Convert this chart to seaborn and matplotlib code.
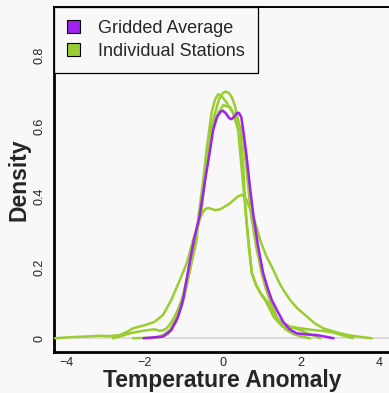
import matplotlib
matplotlib.use("Agg")
import matplotlib.pyplot as plt
from matplotlib.patches import Patch
import seaborn as sns
import pandas as pd

# ---- data ----
grid_x = [-2.03, -1.8, -1.53, -1.32, -1.15, -1.02, -0.9, -0.74, -0.59, -0.45, -0.33, -0.25, -0.15,
          -0.06, 0.0, 0.08, 0.16, 0.22, 0.29, 0.36, 0.41, 0.47, 0.52, 0.6, 0.7, 0.78, 0.9, 1.03,
          1.15, 1.25, 1.38, 1.55, 1.72, 1.89, 2.1, 2.4, 2.6, 2.83]
grid_y = [0.0, 0.002, 0.005, 0.023, 0.06, 0.108, 0.184, 0.278, 0.348, 0.45, 0.53, 0.588, 0.625,
          0.64, 0.643, 0.635, 0.622, 0.619, 0.626, 0.636, 0.637, 0.625, 0.588, 0.52, 0.42, 0.348,
          0.26, 0.184, 0.14, 0.108, 0.08, 0.045, 0.024, 0.014, 0.011, 0.009, 0.005, 0.0]

st1_x = [-4.3, -3.9, -3.5, -3.15, -2.9, -2.64, -2.45, -2.3, -2.1, -1.96, -1.74, -1.53, -1.32, -1.1,
         -0.93, -0.76, -0.62, -0.52, -0.45, -0.38, -0.3, -0.2, -0.08, 0.05, 0.18, 0.3, 0.4, 0.48,
         0.56, 0.61, 0.68, 0.74, 0.86, 0.95, 1.1, 1.29, 1.45, 1.55, 1.72, 1.9, 2.15, 2.35, 2.57,
         2.8, 3.0, 3.2, 3.43, 3.81]
st1_y = [0.0, 0.003, 0.005, 0.007, 0.006, 0.009, 0.018, 0.028, 0.034, 0.038, 0.047, 0.066, 0.108,
         0.165, 0.21, 0.278, 0.33, 0.355, 0.365, 0.368, 0.366, 0.362, 0.364, 0.372, 0.381, 0.393,
         0.402, 0.405, 0.4, 0.39, 0.37, 0.353, 0.315, 0.278, 0.235, 0.193, 0.155, 0.136, 0.108,
         0.085, 0.061, 0.042, 0.028, 0.02, 0.014, 0.009, 0.005, 0.0]

st2_x = [-2.81, -2.6, -2.38, -2.2, -2.04, -1.85, -1.74, -1.62, -1.52, -1.44, -1.32, -1.19, -1.08,
         -0.97, -0.86, -0.67, -0.62, -0.5, -0.42, -0.35, -0.29, -0.2, -0.12, 0.0, 0.1, 0.26, 0.39,
         0.48, 0.59, 0.66, 0.74, 0.85, 0.95, 1.05, 1.16, 1.28, 1.4, 1.6, 1.72, 2.0, 2.32, 2.6,
         2.83, 3.0, 3.17, 3.33]
st2_y = [0.0, 0.006, 0.014, 0.018, 0.021, 0.024, 0.025, 0.021, 0.023, 0.028, 0.045, 0.071, 0.1,
         0.136, 0.184, 0.278, 0.348, 0.45, 0.53, 0.588, 0.636, 0.675, 0.69, 0.68, 0.665, 0.636,
         0.588, 0.48, 0.348, 0.26, 0.184, 0.15, 0.13, 0.115, 0.1, 0.075, 0.055, 0.04, 0.033,
         0.028, 0.023, 0.02, 0.016, 0.01, 0.005, 0.0]

st3_x = [-2.3, -2.0, -1.8, -1.62, -1.5, -1.36, -1.22, -1.1, -1.0, -0.89, -0.72, -0.58, -0.45,
         -0.31, -0.2, -0.1, 0.0, 0.08, 0.15, 0.22, 0.3, 0.35, 0.45, 0.52, 0.59, 0.67, 0.74, 0.85,
         0.97, 1.08, 1.3, 1.5, 1.7, 1.8, 2.0, 2.25, 2.49]
st3_y = [0.0, 0.001, 0.002, 0.005, 0.011, 0.023, 0.05, 0.089, 0.13, 0.184, 0.278, 0.348, 0.47,
         0.588, 0.636, 0.675, 0.693, 0.697, 0.693, 0.683, 0.66, 0.636, 0.588, 0.48, 0.348, 0.26,
         0.184, 0.15, 0.125, 0.108, 0.06, 0.035, 0.025, 0.03, 0.022, 0.01, 0.0]

st4_x = [-1.9, -1.6, -1.4, -1.2, -1.05, -0.92, -0.8, -0.68, -0.56, -0.42, -0.29, -0.2, -0.12,
         0.01, 0.1, 0.18, 0.3, 0.4, 0.5, 0.6, 0.72, 0.85, 0.99, 1.1, 1.2, 1.4, 1.6, 1.8, 2.0, 2.23]
st4_y = [0.0, 0.003, 0.012, 0.045, 0.09, 0.15, 0.22, 0.3, 0.35, 0.48, 0.588, 0.618, 0.636, 0.659,
         0.655, 0.654, 0.63, 0.605, 0.588, 0.48, 0.348, 0.26, 0.184, 0.14, 0.108, 0.055, 0.025,
         0.012, 0.005, 0.0]

x_ticks = [-4, -2, 0, 2, 4]
x_tick_labels = ["\u22124", "\u22122", "0", "2", "4"]
y_ticks = [0, 0.2, 0.4, 0.6, 0.8]
y_tick_labels = ["0", "0.2", "0.4", "0.6", "0.8"]
legend_labels = ["Gridded Average", "Individual Stations"]

PURPLE = "#A020F0"
GREEN = "#9ACD32"
BG = "#f8f8f8"

sns.set_style("white")
plt.rcParams["font.family"] = ["Liberation Sans", "DejaVu Sans"]

fig = plt.figure(figsize=(3.89, 3.93), dpi=100, facecolor=BG)
ax = fig.add_axes([54 / 389, (393 - 351.7) / 393, (391 - 54) / 389, (351.7 - 7) / 393])
ax.set_facecolor(BG)

ax.axhline(0, color="#d4d4d4", lw=1.1, zorder=1)

stations = [(st1_x, st1_y), (st2_x, st2_y), (st3_x, st3_y), (st4_x, st4_y)]
for sx, sy in stations:
    df = pd.DataFrame({"x": sx, "y": sy})
    sns.lineplot(data=df, x="x", y="y", sort=False, estimator=None, color=GREEN, lw=1.8, ax=ax, zorder=3)
dfg = pd.DataFrame({"x": grid_x, "y": grid_y})
sns.lineplot(data=dfg, x="x", y="y", sort=False, estimator=None, color=PURPLE, lw=1.8, ax=ax, zorder=4)

ax.set_xlim(-4.32, 4.30)
ax.set_ylim(-0.038, 0.936)

ax.set_xticks(x_ticks)
ax.set_xticklabels(x_tick_labels, fontsize=9)
ax.set_yticks(y_ticks)
ax.set_yticklabels(y_tick_labels, fontsize=9, rotation=90, va="center")
ax.tick_params(axis="both", length=0, colors="#222222")
ax.tick_params(axis="x", pad=4)
ax.tick_params(axis="y", pad=6)

ax.set_xlabel("Temperature Anomaly", fontsize=16.5, fontweight="bold", labelpad=0)
ax.set_ylabel("Density", fontsize=16.5, fontweight="bold", labelpad=2)

for s in ["left", "bottom"]:
    ax.spines[s].set_color("black")
    ax.spines[s].set_linewidth(2.0)
ax.spines["top"].set_color("black")
ax.spines["top"].set_linewidth(1.4)
ax.spines["right"].set_visible(False)

handles = [Patch(facecolor=PURPLE, edgecolor="black", lw=0.8),
           Patch(facecolor=GREEN, edgecolor="black", lw=0.8)]
leg = ax.legend(handles, legend_labels, loc="upper left", bbox_to_anchor=(0, 1),
                borderaxespad=0, fontsize=13, frameon=True, fancybox=False,
                handlelength=0.75, handleheight=0.75, handletextpad=1.0,
                borderpad=0.7, labelspacing=0.35, edgecolor="black", facecolor=BG, framealpha=1)
leg.get_frame().set_linewidth(0.9)

fig.savefig("out.png", dpi=100, facecolor=BG)
